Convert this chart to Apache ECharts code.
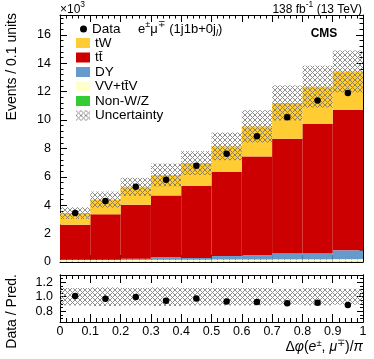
<!DOCTYPE html>
<html>
<head>
<meta charset="utf-8">
<script src="https://cdn.jsdelivr.net/npm/echarts@6/dist/echarts.min.js"></script>
<style>
  html, body { margin: 0; padding: 0; background: #fff; }
  #chart { width: 374px; height: 359px; }
</style>
</head>
<body>
<div id="chart"></div>
<script>
// bin edges of delta phi / pi
const binEdges = [0, 0.1, 0.2, 0.3, 0.4, 0.5, 0.6, 0.7, 0.8, 0.9, 1.0]
// stacked predictions, in units of 10^3 events
const nonWZ = [0.02, 0.02, 0.02, 0.02, 0.02, 0.03, 0.03, 0.03, 0.03, 0.03]
const vvTtv = [0.12, 0.12, 0.13, 0.14, 0.14, 0.15, 0.15, 0.16, 0.16, 0.17]
const dy = [0.02, 0.02, 0.08, 0.19, 0.12, 0.24, 0.29, 0.40, 0.40, 0.62]
const ttbar = [2.47, 3.20, 3.81, 4.34, 5.10, 5.92, 6.97, 8.09, 9.13, 9.90]
const tw = [0.82, 1.03, 1.26, 1.44, 1.59, 1.81, 2.11, 2.52, 2.63, 2.70]
const dataVals = [3.45, 4.30, 5.30, 5.80, 6.78, 7.63, 8.85, 10.20, 11.38, 11.90]
// relative uncertainty of the prediction
const uncRel = [0.12, 0.13, 0.12, 0.13, 0.12, 0.12, 0.12, 0.11, 0.12, 0.11]
// data / prediction
const ratioVals = [1.01, 0.97, 0.995, 0.945, 0.975, 0.935, 0.925, 0.91, 0.915, 0.885]
const xTickLabels = ['0', '0.1', '0.2', '0.3', '0.4', '0.5', '0.6', '0.7', '0.8', '0.9', '1']
const ratioTicks = [0.8, 1.0, 1.2]

const stackNames = ['Non-W/Z', 'VV+tt\u0304V', 'DY', 'tt\u0304', 'tW']
const stackVals = [nonWZ, vvTtv, dy, ttbar, tw]
const stackColors = ['#33cc33', '#ffffcc', '#6699cc', '#cc0000', '#ffcc33']

const FONT = 'Liberation Sans, Arial, Helvetica, sans-serif'

function makeHatch() {
  const p = 5
  const c = document.createElement('canvas')
  c.width = p
  c.height = p
  const ctx = c.getContext('2d')
  ctx.fillStyle = 'rgba(105,105,105,0.75)'
  for (let i = 0; i < p; i++) {
    ctx.fillRect(i, i, 1, 1)
    if (p - 1 - i !== i) ctx.fillRect(p - 1 - i, i, 1, 1)
  }
  return { image: c, repeat: 'repeat' }
}
const hatch = makeHatch()

function rectItem(fill) {
  return function(params, api) {
    const a = api.coord([api.value(0), api.value(3)])
    const b = api.coord([api.value(1), api.value(2)])
    return {
      type: 'rect',
      shape: { x: a[0], y: a[1], width: b[0] - a[0], height: b[1] - a[1] },
      style: { fill: fill }
    }
  }
}

const centers = binEdges.slice(0, -1).map((e, i) => (e + binEdges[i + 1]) / 2)
const totals = centers.map(() => 0)
const series = []
stackVals.forEach(function(vals, k) {
  const items = vals.map(function(v, i) {
    const lo = totals[i]
    totals[i] = lo + v
    return [binEdges[i], binEdges[i + 1], lo, totals[i]]
  })
  series.push({
    name: stackNames[k],
    type: 'custom',
    xAxisIndex: 0,
    yAxisIndex: 0,
    renderItem: rectItem(stackColors[k]),
    itemStyle: { color: stackColors[k] },
    encode: { x: [0, 1], y: [2, 3] },
    data: items,
    z: 2
  })
})
series.push({
  name: 'Uncertainty',
  type: 'custom',
  xAxisIndex: 0,
  yAxisIndex: 0,
  renderItem: rectItem(hatch),
  itemStyle: { color: hatch },
  encode: { x: [0, 1], y: [2, 3] },
  data: totals.map((t, i) => [binEdges[i], binEdges[i + 1], t * (1 - uncRel[i]), t * (1 + uncRel[i])]),
  z: 3
})
series.push({
  name: 'Data',
  type: 'scatter',
  xAxisIndex: 0,
  yAxisIndex: 0,
  symbol: 'circle',
  symbolSize: 6.5,
  itemStyle: { color: '#000', opacity: 1 },
  emphasis: { disabled: true },
  data: centers.map((c, i) => [c, dataVals[i]]),
  z: 4
})
series.push({
  name: 'ratioUnc',
  type: 'custom',
  xAxisIndex: 2,
  yAxisIndex: 2,
  renderItem: rectItem(hatch),
  encode: { x: [0, 1], y: [2, 3] },
  data: uncRel.map((u, i) => [binEdges[i], binEdges[i + 1], 1 - u, 1 + u]),
  z: 3
})
series.push({
  name: 'ratio',
  type: 'scatter',
  xAxisIndex: 2,
  yAxisIndex: 2,
  symbol: 'circle',
  symbolSize: 6.5,
  itemStyle: { color: '#000', opacity: 1 },
  emphasis: { disabled: true },
  data: centers.map((c, i) => [c, ratioVals[i]]),
  z: 4
})

const line = { show: true, onZero: false, lineStyle: { color: '#000', width: 1 }}
function xAx(grid, pos, labels, major, minor) {
  return {
    type: 'value', gridIndex: grid, position: pos, min: 0, max: 1, interval: 0.1,
    axisLine: line,
    axisTick: { show: true, inside: true, length: major, lineStyle: { color: '#000' }},
    minorTick: { show: true, splitNumber: 5, length: minor, lineStyle: { color: '#000' }},
    splitLine: { show: false },
    axisLabel: {
      show: labels, margin: 3, color: '#000', fontFamily: FONT, fontSize: 12.5,
      formatter: v => xTickLabels[Math.round(v * 10)]
    }
  }
}
function yMain(pos, labels) {
  return {
    type: 'value', gridIndex: 0, position: pos, min: 0, max: 17.4, interval: 2,
    axisLine: line,
    axisTick: { show: true, inside: true, length: 7, lineStyle: { color: '#000' }},
    minorTick: { show: true, splitNumber: 5, length: 3.5, lineStyle: { color: '#000' }},
    splitLine: { show: false },
    axisLabel: { show: labels, showMaxLabel: false, margin: 9, color: '#000', fontFamily: FONT, fontSize: 12.5 }
  }
}
function yRatio(pos, labels) {
  return {
    type: 'value', gridIndex: 1, position: pos, min: 0.65, max: 1.3,
    axisLine: line,
    axisTick: { show: true, inside: true, length: 6, customValues: ratioTicks, lineStyle: { color: '#000' }},
    splitLine: { show: false },
    axisLabel: {
      show: labels, margin: 7, color: '#000', fontFamily: FONT, fontSize: 12.5,
      customValues: ratioTicks, formatter: v => v.toFixed(1)
    }
  }
}
function yRatioMinor(pos) {
  return {
    type: 'value', gridIndex: 1, position: pos, min: 0.65, max: 1.3, interval: 0.05,
    axisLine: line,
    axisTick: { show: true, inside: true, length: 3, lineStyle: { color: '#000' }},
    splitLine: { show: false },
    axisLabel: { show: false }
  }
}

const txt = { fontFamily: FONT, color: '#000' }
const option = {
  animation: false,
  backgroundColor: '#fff',
  grid: [
    { left: 60, top: 15, width: 303, height: 247 },
    { left: 60, top: 275, width: 303, height: 47 }
  ],
  xAxis: [
    xAx(0, 'bottom', false, 7, 3.5),
    xAx(0, 'top', false, 7, 3.5),
    xAx(1, 'bottom', true, 8, 4),
    xAx(1, 'top', false, 8, 4)
  ],
  yAxis: [
    yMain('left', true),
    yMain('right', false),
    yRatio('left', true),
    yRatio('right', false),
    yRatioMinor('left'),
    yRatioMinor('right')
  ],
  legend: [
    {
      data: ['Data'], orient: 'vertical', left: 80, top: 21.75, padding: 0,
      icon: 'circle', itemWidth: 7, itemHeight: 7, itemGap: 0,
      itemStyle: { color: '#000', opacity: 1 },
      textStyle: { fontFamily: FONT, fontSize: 13.5, lineHeight: 14.5, color: '#000' }
    },
    {
      data: ['tW', 'tt\u0304', 'DY', 'VV+tt\u0304V', 'Non-W/Z', 'Uncertainty'],
      orient: 'vertical', left: 76, top: 35.75, padding: 0,
      icon: 'rect', itemWidth: 14, itemHeight: 10, itemGap: 0,
      textStyle: { fontFamily: FONT, fontSize: 13.5, lineHeight: 14.5, color: '#000' }
    }
  ],
  graphic: [
    {
      type: 'text', x: 60, y: 8,
      style: {
        text: '{n|\u00d710}{s|3}', verticalAlign: 'middle', align: 'left',
        rich: {
          n: { ...txt, fontSize: 12, lineHeight: 16, verticalAlign: 'bottom' },
          s: { ...txt, fontSize: 8.5, lineHeight: 9, verticalAlign: 'top' }
        }
      }
    },
    {
      type: 'text', x: 362, y: 8,
      style: {
        text: '{n|138 fb}{s|-1}{n| (13 TeV)}', verticalAlign: 'middle', align: 'right',
        rich: {
          n: { ...txt, fontSize: 12, lineHeight: 16, verticalAlign: 'bottom' },
          s: { ...txt, fontSize: 8.5, lineHeight: 9, verticalAlign: 'top' }
        }
      }
    },
    {
      type: 'text', x: 324, y: 34,
      style: { text: 'CMS', ...txt, fontSize: 12, fontWeight: 'bold', align: 'center', verticalAlign: 'middle' }
    },
    {
      type: 'text', x: 138, y: 29,
      style: {
        text: '{n|e}{s|\u00b1}{n|\u03bc}{s|\u2213}{n| (1j1b+0j}{b|l}{n|)}', verticalAlign: 'middle', align: 'left',
        rich: {
          n: { ...txt, fontSize: 13, lineHeight: 17, verticalAlign: 'middle' },
          s: { ...txt, fontSize: 9, lineHeight: 10, verticalAlign: 'top' },
          b: { ...txt, fontSize: 9, lineHeight: 10, fontStyle: 'italic', verticalAlign: 'bottom' }
        }
      }
    },
    {
      type: 'text', x: 12, y: 13, rotation: Math.PI / 2,
      style: { text: 'Events / 0.1 units', ...txt, fontSize: 14, align: 'right', verticalAlign: 'middle' }
    },
    {
      type: 'text', x: 12, y: 274, rotation: Math.PI / 2,
      style: { text: 'Data / Pred.', ...txt, fontSize: 14, align: 'right', verticalAlign: 'middle' }
    },
    {
      type: 'text', x: 363, y: 347,
      style: {
        text: '{n|\u0394}{i|\u03c6}{n|(}{i|e}{s|\u00b1}{n|, }{i|\u03bc}{s|\u2213}{n|)/}{i|\u03c0}',
        verticalAlign: 'middle', align: 'right',
        rich: {
          n: { ...txt, fontSize: 14, lineHeight: 18, verticalAlign: 'middle' },
          i: { ...txt, fontSize: 14, lineHeight: 18, fontStyle: 'italic', verticalAlign: 'middle' },
          s: { ...txt, fontSize: 9.5, lineHeight: 10, verticalAlign: 'top' }
        }
      }
    }
  ],
  series: series
}

const chart = echarts.init(document.getElementById('chart'))
chart.setOption(option)
</script>
</body>
</html>
